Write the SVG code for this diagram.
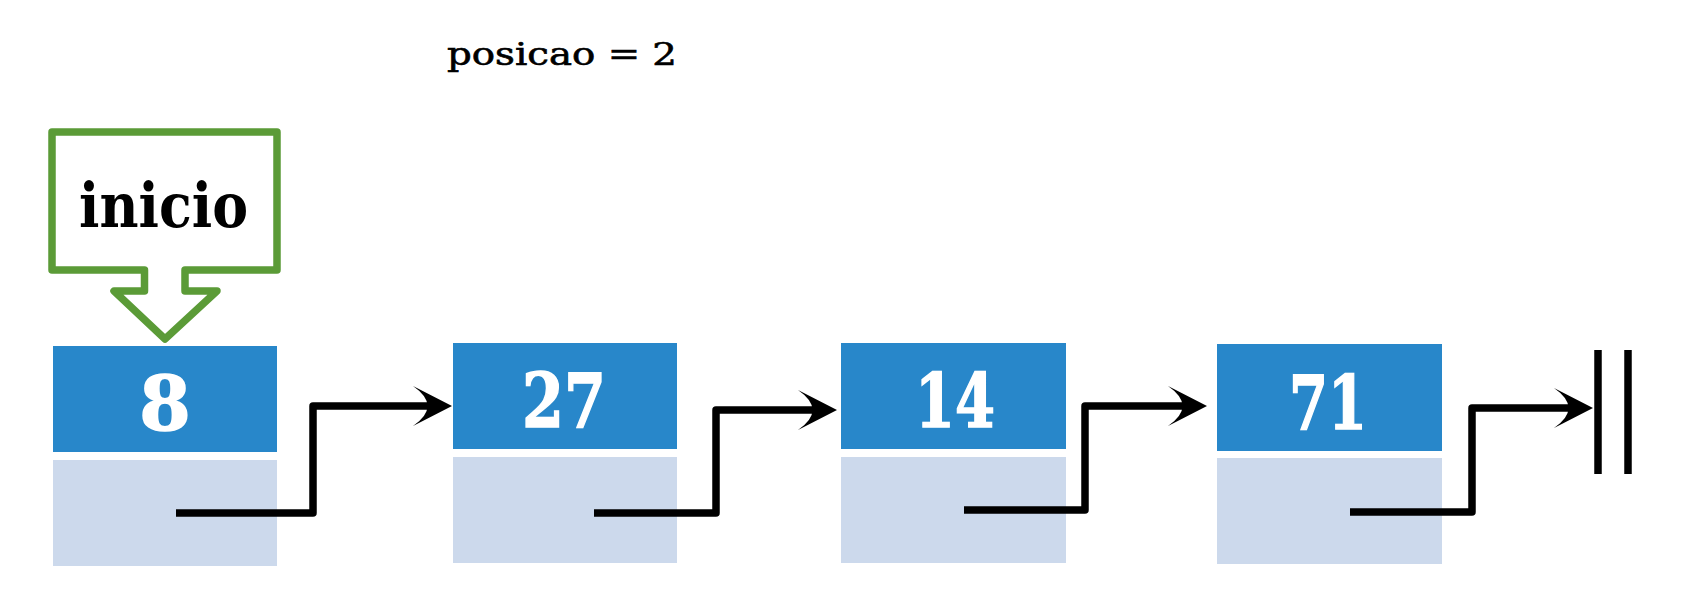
<svg xmlns="http://www.w3.org/2000/svg" width="1686" height="600" viewBox="0 0 1686 600">
<style>
.data{fill:#2887ca}
.next{fill:#ccd9ec}
.num{font-family:"DejaVu Serif",serif;font-weight:bold;font-size:74px;fill:#ffffff;text-anchor:middle;stroke:#ffffff;stroke-width:1.5}
.conn{fill:none;stroke:#000;stroke-width:7.5;stroke-linejoin:round}
.lbl{font-family:"DejaVu Serif",serif;fill:#000}
</style>
<defs>
<marker id="ah" viewBox="-40 -21 41 42" refX="-15" refY="0" markerWidth="41" markerHeight="42" orient="auto" markerUnits="userSpaceOnUse">
<path d="M0,0 L-39,-20 Q-10,0 -39,20 Z" fill="#000"/>
</marker>
</defs>
<rect width="1686" height="600" fill="#fff"/>
<text class="lbl" x="447" y="65" font-size="31" stroke="#000" stroke-width="0.6" textLength="230" lengthAdjust="spacingAndGlyphs">posicao = 2</text>
<g id="inicio">
<path d="M52,132 H277 V270 H185 V291 H217 L165,339 L114,291 H144.5 V270 H52 Z" fill="#fff" stroke="#5b9b37" stroke-width="7.5" stroke-linejoin="round"/>
<text class="lbl" x="79" y="227" font-size="62" font-weight="bold" textLength="169" lengthAdjust="spacingAndGlyphs">inicio</text>
</g>
<g id="node1">
<rect class="data" x="53" y="346" width="224" height="106"/>
<rect class="next" x="53" y="460" width="224" height="106"/>
<text class="num" x="165" y="430">8</text>
</g>
<g id="node2">
<rect class="data" x="453" y="343" width="224" height="106"/>
<rect class="next" x="453" y="457" width="224" height="106"/>
<text class="num" x="564" y="427" textLength="84" lengthAdjust="spacingAndGlyphs">27</text>
</g>
<g id="node3">
<rect class="data" x="841" y="343" width="225" height="106"/>
<rect class="next" x="841" y="457" width="225" height="106"/>
<text class="num" x="955" y="427" textLength="80" lengthAdjust="spacingAndGlyphs">14</text>
</g>
<g id="node4">
<rect class="data" x="1217" y="344" width="225" height="107"/>
<rect class="next" x="1217" y="458" width="225" height="106"/>
<text class="num" x="1328" y="429" textLength="78" lengthAdjust="spacingAndGlyphs">71</text>
</g>
<g id="null">
<line x1="1598" y1="350" x2="1598" y2="474" stroke="#000" stroke-width="7.5"/>
<line x1="1628" y1="350" x2="1628" y2="474" stroke="#000" stroke-width="7.5"/>
</g>
<g id="connectors">
<path class="conn" d="M176,513 H313 V406 H437" marker-end="url(#ah)"/>
<path class="conn" d="M594,513 H716 V410 H822" marker-end="url(#ah)"/>
<path class="conn" d="M964,510 H1085 V406 H1192" marker-end="url(#ah)"/>
<path class="conn" d="M1350,512 H1472 V408 H1578" marker-end="url(#ah)"/>
</g>
</svg>
